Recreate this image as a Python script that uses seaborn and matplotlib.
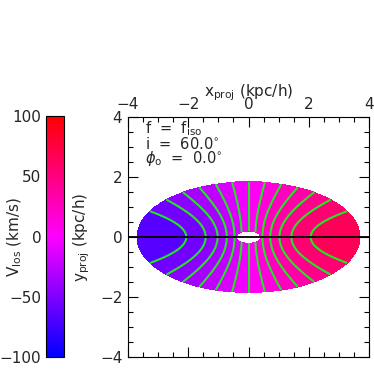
import matplotlib
matplotlib.use("Agg")
import matplotlib.pyplot as plt
import numpy as np
import seaborn as sns
from matplotlib.colors import LinearSegmentedColormap, Normalize
from matplotlib.ticker import MultipleLocator

# model parameters
incl_deg = 60.0
phi0_deg = 0.0
r_disc = 3.7        # kpc/h, outer edge of the disc
r_hole = 0.4        # kpc/h, inner hole
v_flat = 69.0       # km/s, asymptotic line-of-sight amplitude
r_turn = 1.55       # kpc/h, turnover radius

fill_levels = [-70, -60, -50, -40, -30, -20, -10, 0, 10, 20, 30, 40, 50, 60, 70]
line_levels = [-60, -50, -40, -30, -20, -10, 0, 10, 20, 30, 40, 50, 60]
cbar_ticks = [-100, -50, 0, 50, 100]
axis_ticks = [-4, -2, 0, 2, 4]


def minus(vals):
    return [f"{t:d}".replace("-", "\u2212") for t in vals]


sns.set_style("ticks")
plt.rcParams["font.family"] = ["DejaVu Sans"]
plt.rcParams["mathtext.fontset"] = "dejavusans"
plt.rcParams["font.size"] = 11

cmap = LinearSegmentedColormap.from_list("vlos", ["#0000ff", "#ff00ff", "#ff0000"])
norm = Normalize(vmin=-100, vmax=100)

xx, yy = np.meshgrid(np.linspace(-4, 4, 700), np.linspace(-4, 4, 700))
cos_i = np.cos(np.radians(incl_deg))
rr = np.hypot(xx, yy / cos_i)
cos_phi = np.where(rr > 0, xx / np.maximum(rr, 1e-9), 0.0)
vlos = v_flat * np.tanh(rr / r_turn) * cos_phi
vlos = np.where((rr > r_disc) | (rr < r_hole), np.nan, vlos)

fig = plt.figure(figsize=(3.74, 3.74), dpi=100)
ax = fig.add_axes([0.342, 0.045, 0.645, 0.642])
cax = fig.add_axes([0.122, 0.045, 0.048, 0.645])

ax.contourf(xx, yy, vlos, levels=fill_levels, cmap=cmap, norm=norm)
ax.contour(xx, yy, vlos, levels=line_levels, colors="#22e622",
           linewidths=1.5, linestyles="solid")
ax.axhline(0, color="black", lw=1.3)

ax.set_xlim(-4, 4)
ax.set_ylim(-4, 4)
ax.set_xticks(axis_ticks)
ax.set_yticks(axis_ticks)
ax.xaxis.set_minor_locator(MultipleLocator(0.5))
ax.yaxis.set_minor_locator(MultipleLocator(0.5))
ax.tick_params(which="both", direction="in", top=True, right=True, bottom=True, left=True,
               labeltop=True, labelbottom=False, color="black", width=0.8)
ax.tick_params(which="major", length=7, pad=4)
ax.tick_params(which="minor", length=3.5)
ax.set_xticklabels(minus(axis_ticks))
ax.set_yticklabels(minus(axis_ticks))
ax.xaxis.set_label_position("top")
ax.set_xlabel(r"x$_{\rm proj}$ (kpc/h)")
ax.xaxis.set_label_coords(0.5, 1.085)
ax.set_ylabel(r"y$_{\rm proj}$ (kpc/h)")
ax.yaxis.set_label_coords(-0.15, 0.5)
for s in ax.spines.values():
    s.set_color("black")
    s.set_linewidth(0.8)

note_kw = dict(transform=ax.transAxes, va="center", ha="left", fontsize=10.5)
ax.text(0.07, 0.950, r"f  =  f$_{\rm iso}$", **note_kw)
ax.text(0.07, 0.889, r"i  =  60.0$^{\circ}$", **note_kw)
ax.text(0.07, 0.827, r"$\phi_{\rm o}$  =  0.0$^{\circ}$", **note_kw)

sm = plt.cm.ScalarMappable(norm=norm, cmap=cmap)
cb = fig.colorbar(sm, cax=cax, ticks=cbar_ticks)
cb.outline.set_color("black")
cb.outline.set_linewidth(0.8)
cax.yaxis.set_ticks_position("left")
cax.yaxis.set_label_position("left")
cax.tick_params(direction="in", length=4, width=0.8, pad=3)
cax.set_yticklabels(minus(cbar_ticks))
cax.set_ylabel(r"V$_{\rm los}$ (km/s)")
cax.yaxis.set_label_coords(-1.2, 0.5)

fig.savefig("out.png", dpi=100)
